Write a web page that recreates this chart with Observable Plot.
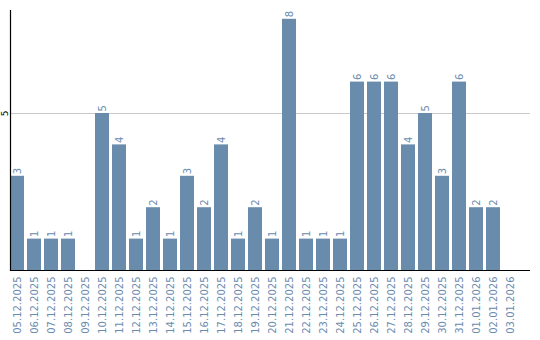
<!DOCTYPE html>
<html>
<head>
<meta charset="utf-8">
<script src="https://cdn.jsdelivr.net/npm/d3@7"></script>
<script src="https://cdn.jsdelivr.net/npm/@observablehq/plot@0.6"></script>
<style>
  html, body { margin: 0; padding: 0; background: #fff; }
  svg { display: block; }
</style>
</head>
<body>
<div id="chart"></div>
<script>
const dates = ["05.12.2025","06.12.2025","07.12.2025","08.12.2025","09.12.2025","10.12.2025","11.12.2025","12.12.2025","13.12.2025","14.12.2025","15.12.2025","16.12.2025","17.12.2025","18.12.2025","19.12.2025","20.12.2025","21.12.2025","22.12.2025","23.12.2025","24.12.2025","25.12.2025","26.12.2025","27.12.2025","28.12.2025","29.12.2025","30.12.2025","31.12.2025","01.01.2026","02.01.2026","03.01.2026"];
const counts = [3,1,1,1,0,5,4,1,2,1,3,2,4,1,2,1,8,1,1,1,6,6,6,4,5,3,6,2,2,0];
const yTicks = [5];

const data = dates.map((d, i) => ({date: d, count: counts[i]}));
const barColor = "#6a8cac";
const labelColor = "#6a8caf";

const chart = Plot.plot({
  width: 540,
  height: 340,
  marginLeft: 10,
  marginRight: 10,
  marginTop: 10,
  marginBottom: 70,
  style: {fontFamily: "DejaVu Sans, sans-serif", fontSize: "10px", background: "#fff"},
  x: {domain: dates, range: [10, 517], paddingInner: 3/17, paddingOuter: 0, align: 0, label: null},
  y: {domain: [0, 8.28], label: null},
  marks: [
    Plot.ruleY(yTicks, {stroke: "#c8c8c8", strokeWidth: 1.2}),
    Plot.barY(data, {x: "date", y: "count", fill: barColor}),
    Plot.text(data.filter(d => d.count > 0), {
      x: "date", y: "count", text: d => String(d.count),
      rotate: -90, textAnchor: "start", dx: 0, dy: -2, fill: labelColor, fontSize: 10
    }),
    Plot.ruleY([0], {stroke: "#000", strokeWidth: 1.2}),
    Plot.frame({anchor: "left", stroke: "#000", strokeWidth: 1.2}),
    Plot.axisX({tickSize: 0, tickPadding: 6, tickRotate: -90, color: labelColor, fontSize: 10, label: null}),
    Plot.axisY({ticks: yTicks, tickSize: 0, tickPadding: 3, tickRotate: -90, color: "#000", fontSize: 9, label: null, textAnchor: "middle"})
  ]
});
document.getElementById("chart").appendChild(chart);
</script>
</body>
</html>
